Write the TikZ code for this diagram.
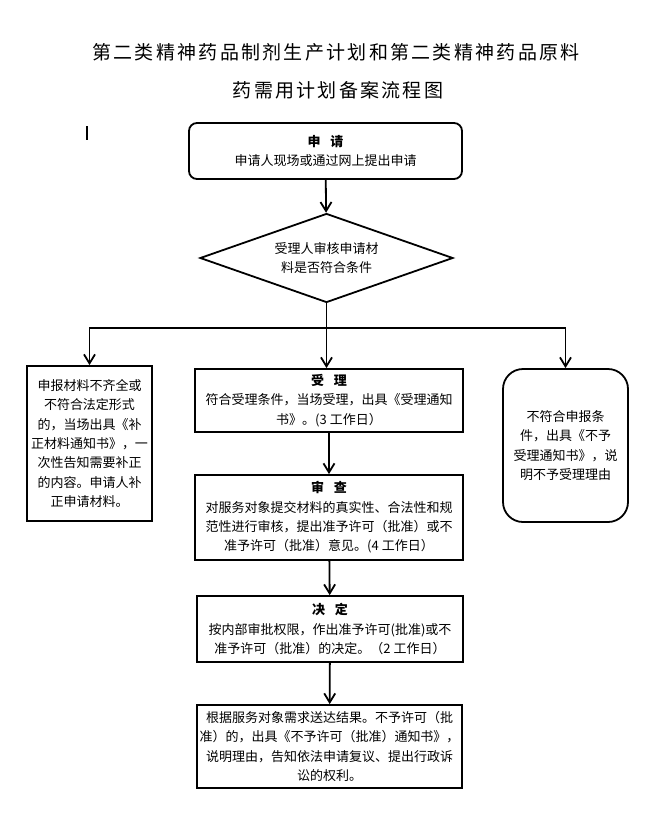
\documentclass[tikz,border=0pt]{standalone}
\usepackage{fontspec}
\usepackage{tikz}
\usetikzlibrary{shapes.geometric, arrows.meta, positioning, calc}
\newfontfamily\cjk{Noto Sans CJK SC}
\newfontfamily\cjktitle[LetterSpace=12]{Noto Sans CJK SC}
\definecolor{mydark}{RGB}{0,0,0}
\tikzset{
  block/.style={rectangle, draw=mydark, align=center, inner sep=0pt,
    font=\fontsize{13}{19.3}\selectfont\cjk, line width=1.8pt},
  roundblock/.style={block, rounded corners=8pt},
  softblock/.style={block, rounded corners=20pt},
  decision/.style={diamond, draw=mydark, align=center, inner sep=0pt,
    aspect=2.84, font=\fontsize{13}{19.3}\selectfont\cjk, line width=1.8pt},
  title/.style={font=\fontsize{19}{22}\selectfont\cjktitle},
  arrow/.style={-{Straight Barb[length=9pt,width=11pt]}, line width=1.8pt, color=mydark},
  line/.style={line width=1.8pt, color=mydark}
}
\newcommand{\hd}[1]{\textbf{#1}}

\begin{document}
\begin{tikzpicture}[x=1pt, y=-1pt]
  \useasboundingbox (0,0) rectangle (662,820);

  % Title
  \node[title] (title1) at (336,52) {第二类精神药品制剂生产计划和第二类精神药品原料};
  \node[title] (title2) at (338,90) {药需用计划备案流程图};
  \coordinate (cursor) at (87,126);
  \draw[line width=1.4pt] (cursor) -- ++(0,14);

  % Main column
  \node[roundblock, minimum width=273pt, minimum height=56pt] (apply) at (325.5,151)
    {\hd{申\hspace{0.75em}请}\\申请人现场或通过网上提出申请};
  \node[decision, minimum width=253pt, minimum height=89pt] (check) at (326.5,258)
    {受理人审核申请材\\料是否符合条件};
  \coordinate (split) at (326.5,328);
  \node[block, minimum width=268pt, minimum height=63pt] (accept) at (329,400.5)
    {\hd{受\hspace{0.75em}理}\\符合受理条件，当场受理，出具《受理通知\\书》。(3 工作日）};
  \node[block, minimum width=268pt, minimum height=85pt] (review) at (329,517.5)
    {\hd{审\hspace{0.75em}查}\\对服务对象提交材料的真实性、合法性和规\\范性进行审核，提出准予许可（批准）或不\\准予许可（批准）意见。(4 工作日）};
  \node[block, minimum width=266pt, minimum height=66pt] (decide) at (330,629)
    {\hd{决\hspace{0.75em}定}\\按内部审批权限，作出准予许可(批准)或不\\准予许可（批准）的决定。（2 工作日）};
  \node[block, minimum width=265pt, minimum height=83pt] (deliver) at (329.5,746.5)
    {根据服务对象需求送达结果。不予许可（批\\准）的，出具《不予许可（批准）通知书》，\\说明理由，告知依法申请复议、提出行政诉\\讼的权利。};

  % Side branches
  \node[block, minimum width=125pt, minimum height=155pt] (reject) at (89.5,443.5)
    {申报材料不齐全或\\不符合法定形式\\的，当场出具《补\\正材料通知书》，一\\次性告知需要补正\\的内容。申请人补\\正申请材料。};
  \node[softblock, minimum width=125pt, minimum height=153pt] (refuse) at (565.5,445.5)
    {不符合申报条\\件，出具《不予\\受理通知书》，说\\明不予受理理由};

  % Connectors
  \draw[arrow] (apply) -- (check);
  \draw[line] (check.south) -- (split);
  \draw[arrow] (split) -| (reject.north);
  \draw[arrow] (split) -| (refuse.north);
  \draw[arrow] (split) -- (split |- accept.north);
  \draw[arrow] (accept) -- (review);
  \draw[arrow] (review) -- (decide);
  \draw[arrow] (decide) -- (deliver);
\end{tikzpicture}
\end{document}
